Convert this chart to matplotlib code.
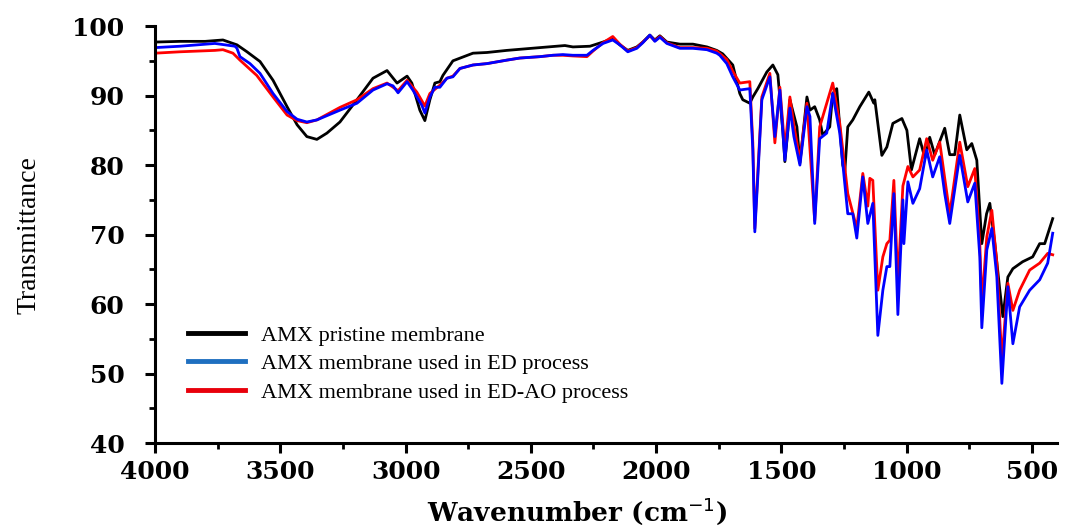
import matplotlib.pyplot as plt
from matplotlib.lines import Line2D
from matplotlib.ticker import MultipleLocator

# FTIR spectra (wavenumber in cm-1, transmittance in %)
wn_pristine = [4000, 3900, 3800, 3729, 3673, 3633, 3581, 3529, 3473, 3433, 3394,
               3354, 3314, 3262, 3194, 3130, 3074, 3034, 2994, 2975, 2943, 2923,
               2903, 2883, 2863, 2851, 2811, 2731, 2675, 2596, 2464, 2364, 2332,
               2264, 2212, 2173, 2145, 2113, 2077, 2053, 2025, 2005, 1985, 1957,
               1905, 1853, 1797, 1758, 1734, 1694, 1666, 1654, 1626, 1614, 1594,
               1558, 1534, 1514, 1494, 1486, 1474, 1466, 1438, 1426, 1398, 1386,
               1367, 1347, 1335, 1307, 1295, 1279, 1255, 1247, 1235, 1215, 1187,
               1151, 1131, 1127, 1099, 1079, 1055, 1019, 999, 981, 948, 927,
               908, 888, 848, 828, 808, 788, 760, 740, 720, 700, 681, 668, 648,
               628, 616, 596, 576, 537, 497, 469, 449, 417]
t_pristine = [97.7, 97.8, 97.8, 98.0, 97.3, 96.3, 94.9, 92.2, 88.4, 85.8, 84.1,
              83.7, 84.6, 86.2, 89.4, 92.5, 93.6, 91.8, 92.8, 91.8, 87.9, 86.4,
              89.4, 91.8, 92.0, 92.9, 95.0, 96.1, 96.2, 96.5, 96.9, 97.2, 97.0,
              97.1, 97.7, 98.2, 97.3, 96.5, 97.0, 97.7, 98.7, 98.0, 98.6, 97.7,
              97.4, 97.4, 97.0, 96.5, 96.0, 94.4, 90.3, 89.4, 88.9, 89.8, 91.0,
              93.4, 94.4, 93.0, 84.8, 80.5, 85.0, 89.4, 85.5, 80.3, 89.8, 87.9,
              88.4, 86.5, 84.3, 85.5, 90.3, 91.0, 80.0, 79.0, 85.5, 86.5, 88.4,
              90.5, 88.9, 89.4, 81.4, 82.6, 86.0, 86.7, 85.0, 79.3, 83.8,
              81.0, 84.0, 81.5, 85.3, 81.5, 81.5, 87.2, 82.2, 83.1, 80.7, 68.7,
              73.0, 74.5, 68.7, 62.0, 58.2, 63.9, 65.1, 66.1, 66.8, 68.7, 68.7,
              72.3]

wn_ed = [4000, 3900, 3761, 3681, 3673, 3661, 3621, 3581, 3529, 3473, 3433, 3394,
         3354, 3262, 3194, 3130, 3074, 3050, 3030, 2994, 2971, 2935, 2923, 2903,
         2883, 2863, 2835, 2811, 2783, 2731, 2675, 2596, 2544, 2464, 2412, 2372,
         2332, 2276, 2252, 2212, 2173, 2145, 2113, 2077, 2053, 2025, 2005, 1985,
         1957, 1905, 1853, 1797, 1758, 1746, 1718, 1694, 1666, 1626, 1614, 1606,
         1594, 1578, 1546, 1526, 1506, 1486, 1466, 1450, 1426, 1398, 1386, 1367,
         1347, 1319, 1295, 1267, 1235, 1215, 1199, 1175, 1155, 1135, 1115, 1095,
         1079, 1067, 1051, 1035, 1015, 1011, 995, 975, 948, 920, 896, 868, 848,
         828, 788, 756, 728, 708, 700, 680, 660, 640, 620, 596, 576, 549, 509,
         469, 437, 417]
t_ed = [96.9, 97.1, 97.5, 97.1, 96.8, 95.6, 94.6, 93.2, 90.3, 87.7, 86.6, 86.2,
        86.5, 87.9, 88.9, 90.8, 91.7, 91.4, 90.4, 92.0, 90.8, 88.6, 87.5, 89.8,
        91.2, 91.2, 92.5, 92.7, 93.9, 94.4, 94.6, 95.1, 95.4, 95.6, 95.8, 95.9,
        95.8, 95.8, 96.5, 97.5, 98.0, 97.3, 96.3, 96.8, 97.6, 98.7, 97.8, 98.4,
        97.5, 96.8, 96.8, 96.6, 96.1, 95.8, 94.6, 92.7, 90.8, 91.0, 82.2, 70.4,
        78.3, 89.4, 92.7, 84.1, 90.8, 80.7, 88.2, 84.1, 80.0, 88.4, 87.0, 71.6,
        83.8, 84.6, 90.3, 84.6, 73.0, 73.0, 69.5, 78.3, 71.6, 74.5, 55.5, 62.0,
        65.4, 65.4, 75.9, 58.5, 75.0, 68.7, 77.6, 74.5, 76.6, 82.2, 78.3, 81.2,
        75.9, 71.6, 81.4, 74.7, 77.4, 66.8, 56.6, 67.8, 70.9, 63.9, 48.6, 62.5,
        54.3, 59.6, 62.0, 63.5, 65.9, 70.2]

wn_edao = [4000, 3900, 3761, 3729, 3689, 3661, 3594, 3529, 3473, 3433, 3394,
           3354, 3262, 3194, 3130, 3074, 3030, 2994, 2955, 2923, 2903, 2863,
           2835, 2811, 2783, 2731, 2675, 2596, 2544, 2464, 2412, 2372, 2332,
           2276, 2252, 2212, 2173, 2145, 2113, 2077, 2053, 2025, 2005, 1985,
           1957, 1905, 1853, 1797, 1758, 1718, 1694, 1666, 1626, 1614, 1606,
           1578, 1546, 1526, 1506, 1486, 1466, 1450, 1426, 1398, 1367, 1347,
           1295, 1267, 1235, 1199, 1175, 1155, 1147, 1135, 1115, 1095, 1079,
           1067, 1051, 1035, 1015, 995, 975, 948, 920, 896, 868, 848, 828, 788,
           756, 728, 708, 700, 680, 660, 640, 620, 596, 576, 549, 509, 469, 437,
           417]
t_edao = [96.1, 96.3, 96.5, 96.6, 96.1, 95.1, 92.9, 89.8, 87.2, 86.4, 86.1,
          86.5, 88.3, 89.4, 91.0, 91.8, 90.7, 92.2, 90.5, 88.5, 90.3, 91.5,
          92.5, 92.8, 93.9, 94.4, 94.6, 95.1, 95.4, 95.6, 95.8, 95.8, 95.7,
          95.6, 96.4, 97.6, 98.5, 97.4, 96.4, 96.9, 97.7, 98.6, 97.9, 98.5,
          97.6, 96.9, 96.9, 96.8, 96.4, 95.2, 93.5, 91.8, 92.0, 83.2, 70.9,
          89.8, 93.2, 83.2, 91.2, 82.2, 89.8, 85.7, 80.7, 88.9, 72.0, 85.5,
          91.8, 86.0, 75.9, 70.9, 78.8, 74.1, 78.1, 77.8, 62.0, 66.8, 68.7,
          69.2, 77.8, 63.0, 77.0, 79.8, 78.3, 79.3, 83.8, 80.7, 83.3, 78.1,
          73.0, 83.3, 76.9, 79.5, 68.7, 60.0, 69.7, 73.5, 65.9, 51.9, 63.0,
          59.1, 62.0, 64.9, 65.9, 67.3, 67.1]

labels = ['AMX pristine membrane',
          'AMX membrane used in ED process',
          'AMX membrane used in ED-AO process']

fig = plt.figure(figsize=(10.67, 5.32), dpi=100)
ax = fig.add_axes([0.1453, 0.167, 0.8453, 0.784])

ax.plot(wn_pristine, t_pristine, color='black', lw=2.0)
ax.plot(wn_edao, t_edao, color='#ff0000', lw=2.0)
ax.plot(wn_ed, t_ed, color='#0000ff', lw=2.0)

ax.set_xlim(4000, 400)
ax.set_ylim(40, 100)
ax.xaxis.set_major_locator(MultipleLocator(500))
ax.xaxis.set_minor_locator(MultipleLocator(250))
ax.yaxis.set_major_locator(MultipleLocator(10))
ax.yaxis.set_minor_locator(MultipleLocator(5))

for side in ['top', 'right']:
    ax.spines[side].set_visible(False)
for side in ['left', 'bottom']:
    ax.spines[side].set_linewidth(2.2)

ax.tick_params(which='major', direction='out', length=7, width=2.2)
ax.tick_params(which='minor', direction='out', length=4, width=2.0)
ax.tick_params(axis='y', which='major', pad=15)
ax.tick_params(axis='x', which='major', pad=5)
for lab in ax.get_xticklabels() + ax.get_yticklabels():
    lab.set_family('DejaVu Serif')
    lab.set_weight('bold')
    lab.set_fontsize(18)

ax.set_xlabel('Wavenumber (cm$^{-1}$)', family='DejaVu Serif',
              weight='bold', fontsize=19)
ax.xaxis.set_label_coords(0.468, -0.125)
ax.set_ylabel('Transmittance', family='Liberation Serif', fontsize=20,
              labelpad=22)

handles = [Line2D([], [], color='black', lw=3.5),
           Line2D([], [], color='#1f6fc0', lw=3.5),
           Line2D([], [], color='#e8000b', lw=3.5)]
leg = ax.legend(handles, labels, loc='upper left',
                bbox_to_anchor=(0.036, 0.283), frameon=False,
                prop={'family': 'Liberation Serif', 'size': 16},
                handlelength=2.6, handletextpad=0.7, labelspacing=0.36,
                borderpad=0, borderaxespad=0)

fig.savefig('out.png', dpi=100)
